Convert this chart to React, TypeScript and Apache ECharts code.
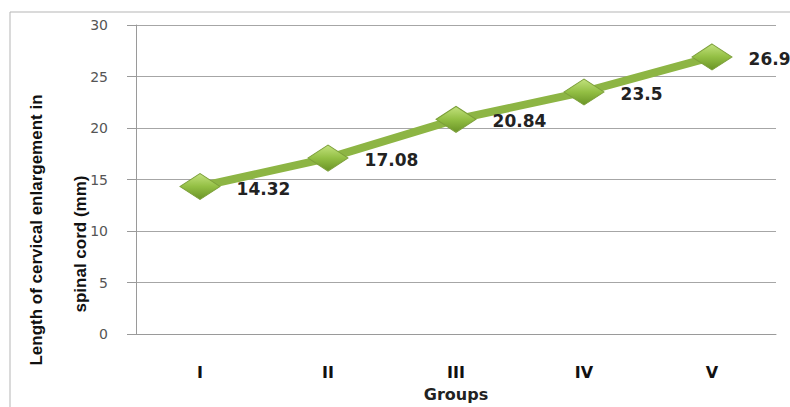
import React, { useEffect, useRef } from "react";
import * as echarts from "echarts";

const categories = ["I", "II", "III", "IV", "V"];
const values = [14.32, 17.08, 20.84, 23.5, 26.9];
const yTicks = { min: 0, max: 30, interval: 5 };
const yTitleLines = ["Length of cervical enlargement in", "spinal cord (mm)"];
const xTitle = "Groups";

export default function App() {
  const ref = useRef<HTMLDivElement>(null);
  useEffect(() => {
    if (!ref.current) return;
    const chart = echarts.init(ref.current, null, { renderer: "svg" });
    chart.setOption({
      animation: false,
      backgroundColor: "#ffffff",
      grid: { left: 136, right: 14, top: 25, bottom: 70 },
      xAxis: {
        type: "category",
        data: categories,
        boundaryGap: true,
        name: xTitle,
        nameLocation: "middle",
        nameGap: 52,
        nameTextStyle: { fontFamily: "DejaVu Sans", fontWeight: "bold", fontSize: 16, color: "#222" },
        axisLine: { lineStyle: { color: "#9a9a9a", width: 1 } },
        axisTick: { show: false },
        axisLabel: { margin: 30, fontFamily: "DejaVu Sans", fontWeight: "bold", fontSize: 16, color: "#111" },
      },
      yAxis: {
        type: "value",
        min: yTicks.min,
        max: yTicks.max,
        interval: yTicks.interval,
        axisLine: { show: true, lineStyle: { color: "#9a9a9a", width: 1 } },
        axisTick: { show: true, inside: false, length: 9, lineStyle: { color: "#9a9a9a" } },
        splitLine: { lineStyle: { color: "#a6a6a6", width: 1 } },
        axisLabel: { margin: 28, fontFamily: "DejaVu Sans", fontSize: 14, color: "#555" },
      },
      graphic: [
        {
          type: "rect",
          shape: { x: 10, y: 12, width: 800, height: 420 },
          style: { fill: "none", stroke: "#b5b5b5", lineWidth: 1 },
          silent: true,
          z: -1,
        },
        {
          type: "text",
          x: 36,
          y: 230,
          rotation: Math.PI / 2,
          style: {
            text: yTitleLines[0],
            fontFamily: "Liberation Sans",
            fontWeight: "bold",
            fontSize: 17,
            fill: "#111",
            align: "center",
            verticalAlign: "middle",
          },
        },
        {
          type: "text",
          x: 80,
          y: 244,
          rotation: Math.PI / 2,
          style: {
            text: yTitleLines[1],
            fontFamily: "Liberation Sans",
            fontWeight: "bold",
            fontSize: 17,
            fill: "#111",
            align: "center",
            verticalAlign: "middle",
          },
        },
      ],
      series: [
        {
          type: "line",
          data: values,
          lineStyle: { color: "#8db544", width: 8 },
          symbol: "diamond",
          symbolSize: [40, 26],
          itemStyle: {
            color: new echarts.graphic.LinearGradient(0, 0, 0, 1, [
              { offset: 0, color: "#c3e27e" },
              { offset: 0.5, color: "#93bf44" },
              { offset: 1, color: "#6a9426" },
            ]),
            borderColor: "#7c9f3a",
            borderWidth: 1,
          },
          label: {
            show: true,
            position: "right",
            distance: 16,
            offset: [0, 2],
            fontFamily: "DejaVu Sans",
            fontWeight: "bold",
            fontSize: 17,
            color: "#222",
          },
        },
      ],
    });
    return () => chart.dispose();
  }, []);
  return (
    <div
      ref={ref}
      style={{ position: "fixed", left: 0, top: 0, width: 790, height: 407 }}
    />
  );
}
